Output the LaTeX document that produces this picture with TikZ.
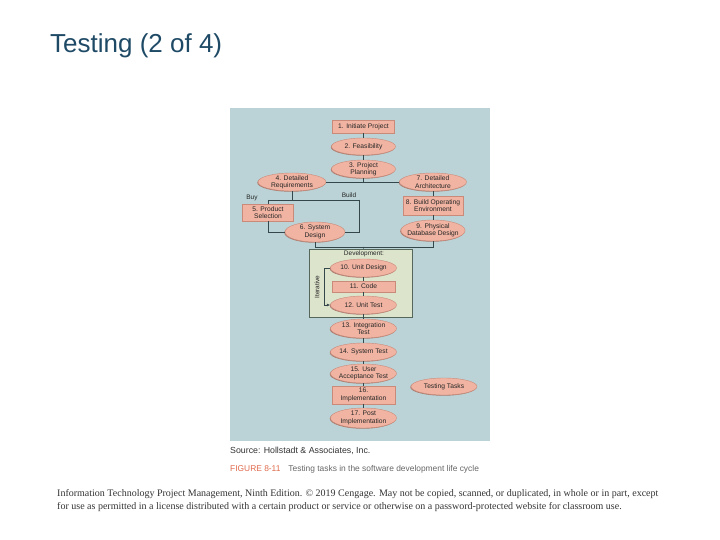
\documentclass[tikz,border=0pt]{standalone}
\usepackage{fontspec}
\setmainfont{Liberation Serif}
\setsansfont{Liberation Sans}
\usetikzlibrary{shapes.geometric,shadows,arrows.meta}

\definecolor{panel}{HTML}{BBD3D6}
\definecolor{salmon}{HTML}{F1B4A2}
\definecolor{salmonedge}{HTML}{C98A7A}
\definecolor{salmonshade}{HTML}{A97A6E}
\definecolor{devfill}{HTML}{DDE4CC}
\definecolor{devedge}{HTML}{55665A}
\definecolor{linkcol}{HTML}{34484B}
\definecolor{titleblue}{HTML}{1F4A66}
\definecolor{figred}{HTML}{E0684B}

\tikzset{
  task/.style={ellipse, draw=salmonedge, fill=salmon, inner sep=-3pt, minimum width=66pt,
    minimum height=18pt, align=center, text=black!85, font=\sffamily\fontsize{6.7}{7.3}\selectfont,
    drop shadow={shadow xshift=-0.7pt, shadow yshift=-0.7pt, fill=salmonshade, opacity=1}},
  taskbox/.style={rectangle, draw=salmonedge, fill=salmon, inner sep=0pt, align=center,
    text=black!85, font=\sffamily\fontsize{6.7}{7.3}\selectfont},
  note/.style={inner sep=0pt, text=black!85, font=\sffamily\fontsize{6.5}{7}\selectfont},
  devbox/.style={rectangle, draw=devedge, fill=devfill, line width=0.8pt},
  link/.style={draw=linkcol, line width=0.7pt},
  foot/.style={anchor=base west, inner sep=0pt, text=black!80, font=\fontsize{10}{12}\selectfont},
}

\begin{document}
\begin{tikzpicture}[x=1pt, y=-1pt]
\useasboundingbox (0,0) rectangle (720,540);
\fill[panel] (230,108) rectangle (490,441);

\node[anchor=base west, inner sep=0pt, text=titleblue, font=\sffamily\fontsize{26}{30}\selectfont]
  (title) at (50,52.5) {Testing (2 of 4)};

\node[devbox, minimum width=103pt, minimum height=68pt] (dev) at (360.5,283) {};
\node[note] (devlabel) at (364,254) {Development:};

% planning and analysis
\node[taskbox, minimum width=62pt, minimum height=13pt] (n1) at (363.5,126.5) {1. Initiate Project};
\node[task, minimum width=64pt, minimum height=17pt] (n2) at (363.5,146.5) {2. Feasibility};
\node[task, minimum width=64pt] (n3) at (363.5,169) {3. Project\\Planning};
\node[task, minimum width=68pt] (n4) at (292,182) {4. Detailed\\Requirements};
\node[task, minimum width=67pt] (n7) at (433,182) {7. Detailed\\Architecture};
\node[taskbox, minimum width=51pt, minimum height=17pt] (n5) at (268,212.5) {5. Product\\Selection};
\node[task, minimum width=60pt, minimum height=20pt] (n6) at (315,232) {6. System\\Design};
\node[taskbox, minimum width=60pt, minimum height=19pt] (n8) at (433,205.5) {8. Build Operating\\Environment};
\node[task, minimum width=63pt, minimum height=21pt] (n9) at (433,230.5) {9. Physical\\Database Design};

% development and testing
\node[task] (n10) at (363.5,268) {10. Unit Design};
\node[taskbox, minimum width=63pt, minimum height=11pt] (n11) at (363.5,286.5) {11. Code};
\node[task] (n12) at (363.5,305) {12. Unit Test};
\node[task, minimum height=19pt] (n13) at (363.5,328.5) {13. Integration\\Test};
\node[task] (n14) at (363.5,352) {14. System Test};
\node[task, minimum height=19pt] (n15) at (363.5,373.5) {15. User\\Acceptance Test};
\node[taskbox, minimum width=63pt, minimum height=18pt] (n16) at (363.5,395) {16.\\Implementation};
\node[task, minimum height=20pt] (n17) at (363.5,418) {17. Post\\Implementation};
\node[task, minimum height=17pt] (tt) at (444,386.5) {Testing Tasks};

\coordinate (buyc) at (268,200);
\coordinate (buildc) at (359,200);
\coordinate (devc) at (363.5,247);
\coordinate (itc) at (324,268);
\node[note] (buy) at (252,198) {Buy};
\node[note] (build) at (349,195) {Build};
\node[note, rotate=90] (iter) at (317,287) {Iterative};

\draw[link] (n1) -- (n2);
\draw[link] (n2) -- (n3);
\draw[link] (n3) -- (n3 |- n4);
\draw[link] (n4) -- (n7);
\draw[link] (n4) -- (n4 |- buyc);
\draw[link] (buyc) -- (buildc);
\draw[link] (buyc) -- (n5);
\draw[link] (n5) |- (n6);
\draw[link] (buildc) |- (n6);
\draw[link] (n7) -- (n8);
\draw[link] (n8) -- (n9);
\draw[link] (n9) |- (n6 |- devc) -- (n6);
\draw[link] (devc) -- (dev);
\draw[link] (n10) -- (n11);
\draw[link] (n11) -- (n12);
\draw[link, -{Latex[length=3.5pt, width=3pt]}] (n10.west) -- (itc) |- (n12.west);
\draw[link] (n12) -- (n13);
\draw[link] (n13) -- (n14);
\draw[link] (n14) -- (n15);
\draw[link] (n15) -- (n16);
\draw[link] (n16) -- (n17);

\node[anchor=base west, inner sep=0pt, text=black!80, font=\sffamily\fontsize{8.8}{10}\selectfont]
  (source) at (230,453.5) {Source: Hollstadt \& Associates, Inc.};
\node[anchor=base west, inner sep=0pt, font=\sffamily\fontsize{8.4}{10}\selectfont]
  (caption) at (230,471) {\textcolor{figred}{FIGURE 8-11}\hspace{8pt}\textcolor{black!60}{Testing tasks in the software development life cycle}};

\node[foot] (foot1) at (57,496) {Information Technology Project Management, Ninth Edition. © 2019 Cengage. May not be copied, scanned, or duplicated, in whole or in part, except};
\node[foot] (foot2) at (57,509) {for use as permitted in a license distributed with a certain product or service or otherwise on a password-protected website for classroom use.};
\end{tikzpicture}
\end{document}
